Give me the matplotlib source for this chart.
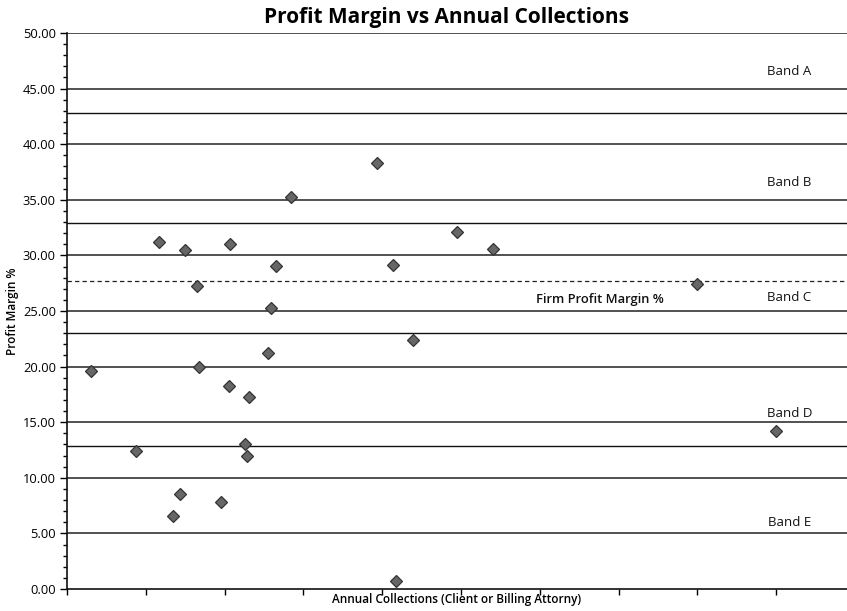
import numpy as np
import matplotlib.pyplot as plt
from matplotlib.ticker import MultipleLocator, NullFormatter

# annual collections (in axis tick units) and profit margin % per attorney
collections = [0.30, 0.87, 1.17, 1.35, 1.43, 1.50, 1.65, 1.68, 1.95, 2.05, 2.07,
               2.26, 2.29, 2.31, 2.55, 2.59, 2.65, 2.84, 3.93, 4.14, 4.17, 4.39,
               4.95, 5.41, 7.99, 9.00]
margins = [19.63, 12.44, 31.18, 6.54, 8.57, 30.49, 27.28, 19.99, 7.85, 18.28, 31.03,
           13.07, 11.96, 17.27, 21.25, 25.27, 29.05, 35.25, 38.34, 29.14, 0.75, 22.39,
           32.08, 30.58, 27.43, 14.21]

firm_margin = 27.72
band_edges = [42.85, 32.9, 22.98, 12.85]
band_names = ['Band A', 'Band B', 'Band C', 'Band D', 'Band E']
band_label_y = [46.5, 36.6, 26.2, 15.8, 6.0]

plt.rcParams['font.family'] = ['Open Sans', 'DejaVu Sans']

fig = plt.figure(figsize=(8.47, 6.11), dpi=100)
ax = fig.add_axes([67 / 847, 1 - 589 / 611, 780 / 847, 556 / 611])

ax.set_xlim(0, 9.9)
ax.set_ylim(0, 50)

# horizontal gridlines every 5
for y in np.arange(5, 50.1, 5):
    ax.axhline(y, color='#222222', lw=1.1, zorder=1)
# band boundaries
for y in band_edges:
    ax.axhline(y, color='#111111', lw=1.0, zorder=1)
# firm profit margin
ax.axhline(firm_margin, color='#222222', lw=0.9, ls=(0, (3.5, 2.5)), zorder=1)

ax.plot(collections, margins, ls='none', marker='D', ms=6.5,
        mfc='#666666', mec='#333333', mew=0.9, zorder=3)

for name, y in zip(band_names, band_label_y):
    ax.text(9.17, y, name, ha='center', va='center', fontsize=9.5, color='#111111')
ax.text(6.76, 26.0, 'Firm Profit Margin %', ha='center', va='center',
        fontsize=9.3, fontweight='semibold', color='#111111')

ax.yaxis.set_major_locator(MultipleLocator(5))
ax.yaxis.set_minor_locator(MultipleLocator(1))
ax.yaxis.set_major_formatter(lambda v, p: f'{v:.2f}')
ax.xaxis.set_major_locator(MultipleLocator(1))
ax.xaxis.set_major_formatter(NullFormatter())

ax.tick_params(axis='y', which='major', length=5, width=1, labelsize=9.3, pad=3)
ax.tick_params(axis='y', which='minor', length=3, width=1)
ax.tick_params(axis='x', which='major', length=4, width=1)

for s in ['top', 'right']:
    ax.spines[s].set_visible(False)
for s in ['left', 'bottom']:
    ax.spines[s].set_linewidth(1.2)
    ax.spines[s].set_color('#111111')

fig.text(457 / 847, 1 - 600 / 611, 'Annual Collections (Client or Billing Attorny)',
         ha='center', va='center', fontsize=8.5, fontweight='semibold')
ax.set_ylabel('Profit Margin %', fontsize=8.5, fontweight='semibold', labelpad=3)
fig.text(446 / 847, 1 - 18 / 611, 'Profit Margin vs Annual Collections', ha='center',
         va='center', fontsize=15, fontweight='bold')

fig.savefig('out.png', dpi=100)
